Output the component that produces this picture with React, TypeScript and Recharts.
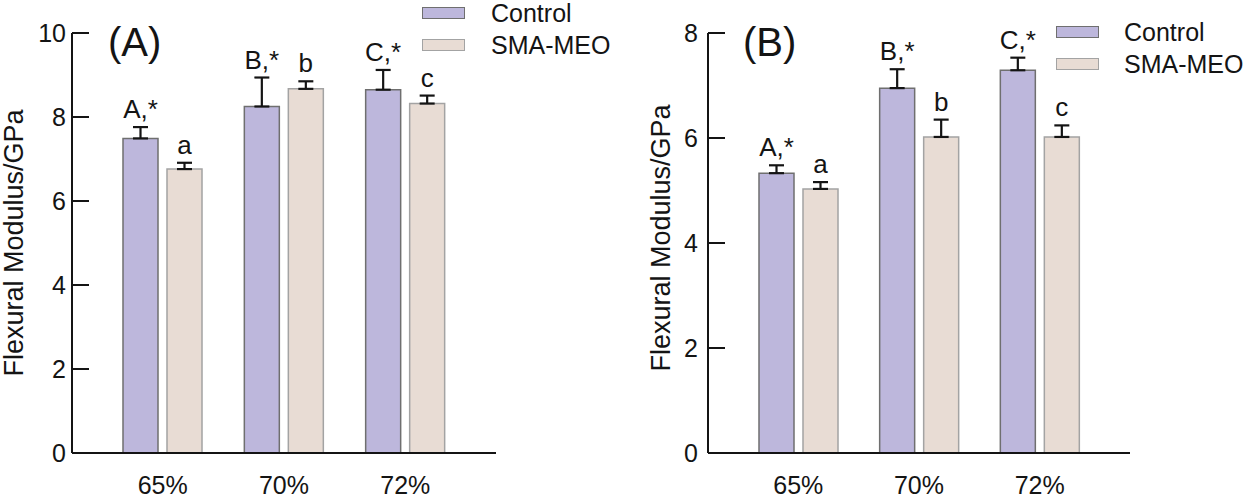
import React from 'react';
import { BarChart, Bar, XAxis, YAxis, ErrorBar, LabelList, Legend, Label } from 'recharts';

const FONT = '"Liberation Sans", Arial, sans-serif';
const INK = '#141414';

const categories = ['65%', '70%', '72%'];

// Panel A
const controlA = [7.49, 8.25, 8.65];
const controlErrA = [0.27, 0.69, 0.47];
const smaA = [6.76, 8.67, 8.32];
const smaErrA = [0.15, 0.18, 0.19];
const ticksA = [0, 2, 4, 6, 8, 10];

// Panel B
const controlB = [5.33, 6.95, 7.29];
const controlErrB = [0.15, 0.36, 0.24];
const smaB = [5.03, 6.02, 6.02];
const smaErrB = [0.13, 0.33, 0.22];
const ticksB = [0, 2, 4, 6, 8];

const controlLetters = ['A,*', 'B,*', 'C,*'];
const smaLetters = ['a', 'b', 'c'];

const seriesNames = ['Control', 'SMA-MEO'];
const fills = ['#bdb7dc', '#e8dcd4'];
const strokes = ['#6f6f6f', '#a3a3a3'];

const buildData = (ctrl: number[], ctrlErr: number[], sma: number[], smaErr: number[]) =>
  categories.map((name, i) => ({
    name,
    control: ctrl[i],
    controlErr: [0, ctrlErr[i]],
    sma: sma[i],
    smaErr: [0, smaErr[i]],
  }));

const dataA = buildData(controlA, controlErrA, smaA, smaErrA);
const dataB = buildData(controlB, controlErrB, smaB, smaErrB);

// letter drawn above the top of the error bar
const letterLabel = (errs: number[], letters: string[]) => (props: any) => {
  const { x, y, width, height, value, index } = props;
  const top = Number(y) - (errs[index] * Number(height)) / Number(value);
  return (
    <text x={Number(x) + Number(width) / 2} y={top - 9} textAnchor="middle" fontSize={26} fill={INK}>
      {letters[index]}
    </text>
  );
};

// inward tick mark from the axis line + label to its left
const yTick = (axisX: number, gap: number) => (props: any) => {
  const { y, payload } = props;
  return (
    <g>
      <line x1={axisX} x2={axisX + 17} y1={y} y2={y} stroke={INK} strokeWidth={2} />
      <text x={axisX - gap} y={y} dy="0.36em" textAnchor="end" fontSize={25} fill={INK}>
        {payload.value}
      </text>
    </g>
  );
};

const yTitle = (offset: number, shift: number) => (props: any) => {
  const vb = props.viewBox || {};
  const cx = Number(vb.x) + offset;
  const cy = Number(vb.y) + Number(vb.height) / 2 + shift;
  return (
    <text
      x={cx}
      y={cy}
      transform={`rotate(-90, ${cx}, ${cy})`}
      textAnchor="middle"
      dominantBaseline="central"
      fontSize={27}
      fill={INK}
    >
      Flexural Modulus/GPa
    </text>
  );
};

const LegendBox = ({ gap }: { gap: number }) => (
  <div style={{ fontFamily: FONT, fontSize: 25, color: INK }}>
    {seriesNames.map((n, i) => (
      <div key={n} style={{ display: 'flex', alignItems: 'center', height: 32, lineHeight: '32px' }}>
        <span
          style={{
            display: 'inline-block',
            width: 43,
            height: 12,
            background: fills[i],
            border: `1.5px solid ${strokes[i]}`,
            boxSizing: 'border-box',
            marginRight: gap,
          }}
        />
        <span>{n}</span>
      </div>
    ))}
  </div>
);

type PanelProps = {
  data: any[];
  ctrlErr: number[];
  smaErr: number[];
  ticks: number[];
  max: number;
  axisWidth: number;
  rightMargin: number;
  tickGap: number;
  labelOffset: number;
  labelShift: number;
  legendLeft: number;
  legendTop: number;
  legendGap: number;
  panel: string;
  panelLeft: number;
};

const Panel = (p: PanelProps) => (
  <div style={{ position: 'relative', width: 625, height: 501 }}>
    <BarChart
      width={625}
      height={501}
      data={p.data}
      margin={{ top: 33, right: p.rightMargin, bottom: 0, left: 0 }}
      barSize={35}
      barGap={9}
    >
      <XAxis
        dataKey="name"
        padding={{ left: 30, right: 30 }}
        tickLine={false}
        tickSize={0}
        axisLine={{ stroke: INK, strokeWidth: 2 }}
        tick={{ fontSize: 25, fill: INK }}
        tickMargin={23}
        height={48}
        interval={0}
      />
      <YAxis
        domain={[0, p.max]}
        ticks={p.ticks}
        width={p.axisWidth}
        tickSize={0}
        tickMargin={p.tickGap}
        axisLine={{ stroke: INK, strokeWidth: 2 }}
        tickLine={false}
        tick={yTick(p.axisWidth, p.tickGap)}
      >
        <Label content={yTitle(p.labelOffset, p.labelShift)} />
      </YAxis>
      <Legend
        layout="vertical"
        align="center"
        verticalAlign="middle"
        wrapperStyle={{ left: p.legendLeft, top: p.legendTop, width: 'auto', height: 'auto' }}
        content={() => <LegendBox gap={p.legendGap} />}
      />
      <Bar dataKey="control" name="Control" fill={fills[0]} stroke={strokes[0]} strokeWidth={1.5} isAnimationActive={false}>
        <ErrorBar dataKey="controlErr" direction="y" width={7.5} stroke={INK} strokeWidth={2.2} />
        <LabelList dataKey="control" content={letterLabel(p.ctrlErr, controlLetters)} />
      </Bar>
      <Bar dataKey="sma" name="SMA-MEO" fill={fills[1]} stroke={strokes[1]} strokeWidth={1.5} isAnimationActive={false}>
        <ErrorBar dataKey="smaErr" direction="y" width={7.5} stroke={INK} strokeWidth={2.2} />
        <LabelList dataKey="sma" content={letterLabel(p.smaErr, smaLetters)} />
      </Bar>
    </BarChart>
    <div
      style={{
        position: 'absolute',
        left: p.panelLeft,
        top: 22,
        fontSize: 40,
        lineHeight: 1,
        color: INK,
        fontFamily: FONT,
      }}
    >
      {p.panel}
    </div>
  </div>
);

export default function App() {
  return (
    <div
      style={{
        position: 'absolute',
        left: 0,
        top: 0,
        width: 1250,
        height: 501,
        display: 'flex',
        background: '#fff',
        fontFamily: FONT,
      }}
    >
      <Panel
        data={dataA}
        ctrlErr={controlErrA}
        smaErr={smaErrA}
        ticks={ticksA}
        max={10}
        axisWidth={72}
        rightMargin={129}
        tickGap={6}
        labelOffset={14}
        labelShift={0}
        legendLeft={422}
        legendTop={-3}
        legendGap={26}
        panel="(A)"
        panelLeft={108}
      />
      <Panel
        data={dataB}
        ctrlErr={controlErrB}
        smaErr={smaErrB}
        ticks={ticksB}
        max={8}
        axisWidth={83}
        rightMargin={120}
        tickGap={10}
        labelOffset={36}
        labelShift={-5}
        legendLeft={431}
        legendTop={16}
        legendGap={25}
        panel="(B)"
        panelLeft={118}
      />
    </div>
  );
}
